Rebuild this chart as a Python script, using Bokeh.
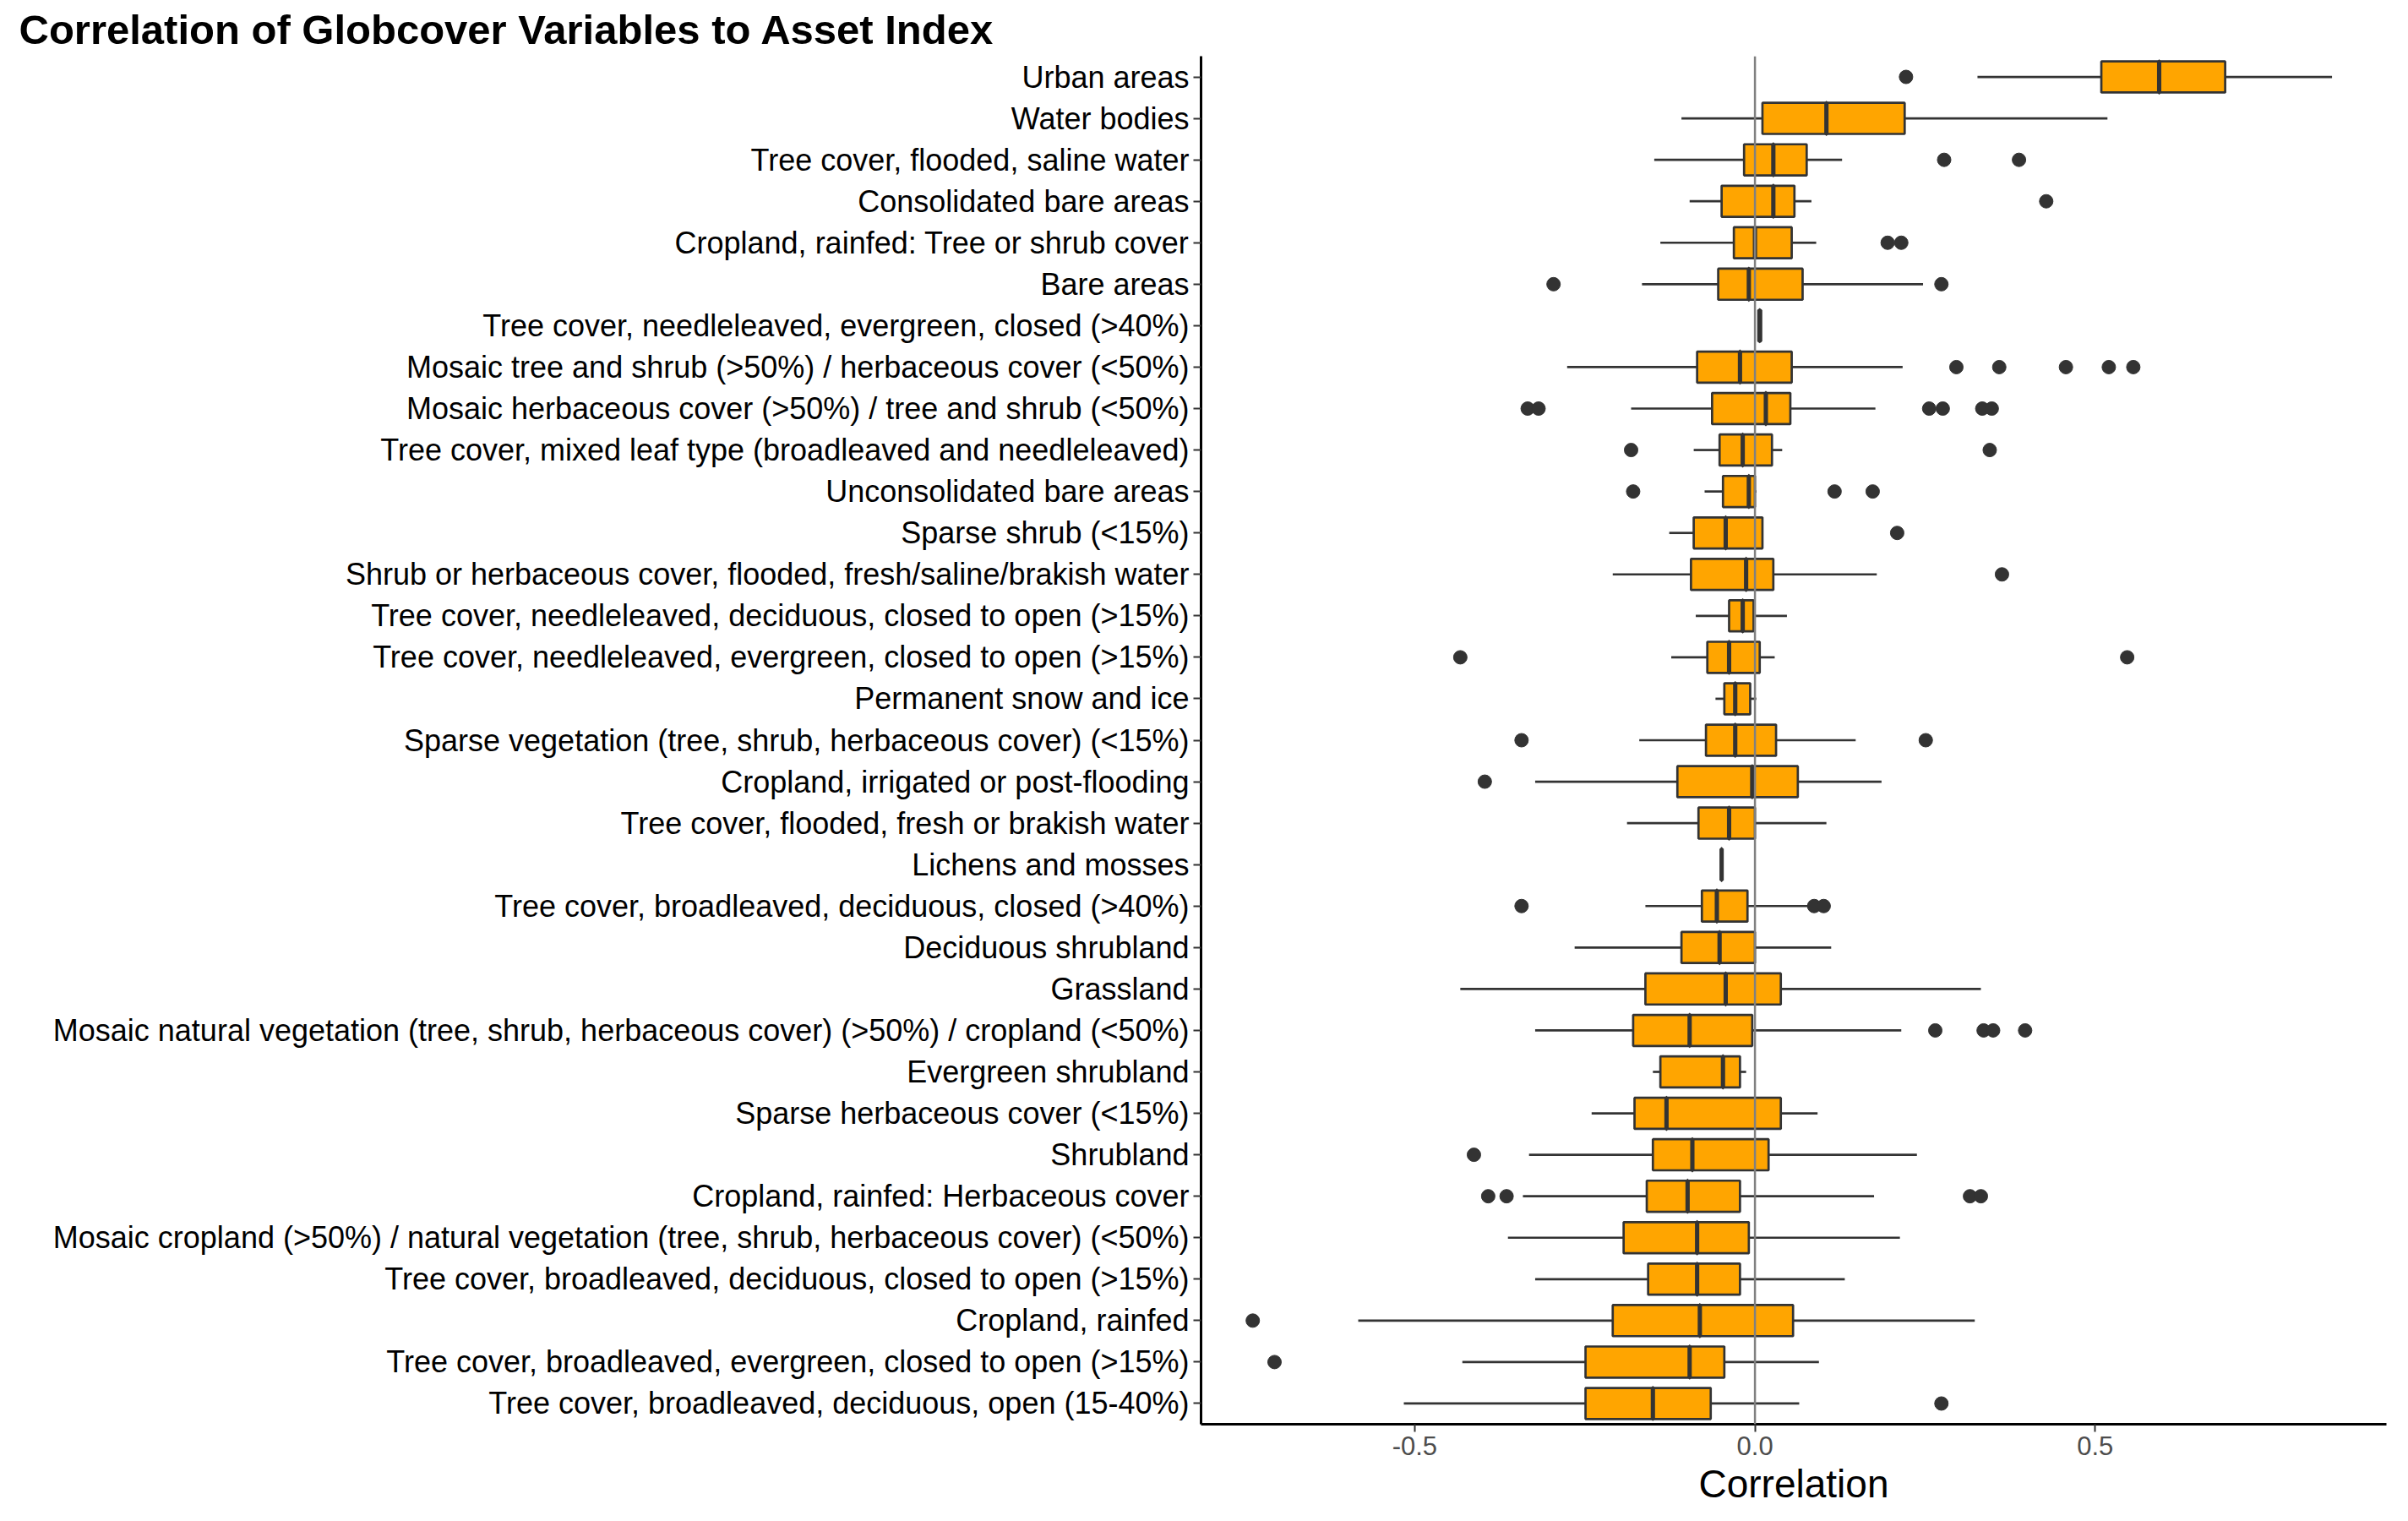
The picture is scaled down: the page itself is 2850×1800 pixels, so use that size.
from bokeh.plotting import figure
from bokeh.models import FactorRange, FixedTicker, Span
from bokeh.embed import file_html
from bokeh.resources import INLINE

# categories top to bottom
cats = [
    "Urban areas", "Water bodies", "Tree cover, flooded, saline water", "Consolidated bare areas",
    "Cropland, rainfed: Tree or shrub cover", "Bare areas",
    "Tree cover, needleleaved, evergreen, closed (>40%)",
    "Mosaic tree and shrub (>50%) / herbaceous cover (<50%)",
    "Mosaic herbaceous cover (>50%) / tree and shrub (<50%)",
    "Tree cover, mixed leaf type (broadleaved and needleleaved)",
    "Unconsolidated bare areas", "Sparse shrub (<15%)",
    "Shrub or herbaceous cover, flooded, fresh/saline/brakish water",
    "Tree cover, needleleaved, deciduous, closed to open (>15%)",
    "Tree cover, needleleaved, evergreen, closed to open (>15%)",
    "Permanent snow and ice",
    "Sparse vegetation (tree, shrub, herbaceous cover) (<15%)",
    "Cropland, irrigated or post-flooding",
    "Tree cover, flooded, fresh or brakish water", "Lichens and mosses",
    "Tree cover, broadleaved, deciduous, closed (>40%)", "Deciduous shrubland", "Grassland",
    "Mosaic natural vegetation (tree, shrub, herbaceous cover) (>50%) / cropland (<50%)",
    "Evergreen shrubland", "Sparse herbaceous cover (<15%)", "Shrubland",
    "Cropland, rainfed: Herbaceous cover",
    "Mosaic cropland (>50%) / natural vegetation (tree, shrub, herbaceous cover) (<50%)",
    "Tree cover, broadleaved, deciduous, closed to open (>15%)", "Cropland, rainfed",
    "Tree cover, broadleaved, evergreen, closed to open (>15%)",
    "Tree cover, broadleaved, deciduous, open (15-40%)",
]
q1 = [0.509, 0.011, -0.016, -0.049, -0.031, -0.054, 0.005, -0.085, -0.063, -0.052, -0.047,
      -0.090, -0.094, -0.038, -0.070, -0.045, -0.072, -0.114, -0.083, -0.049, -0.078, -0.108,
      -0.161, -0.179, -0.139, -0.177, -0.150, -0.159, -0.193, -0.157, -0.209, -0.249, -0.249]
med = [0.594, 0.105, 0.027, 0.027, 0.000, -0.009, 0.007, -0.022, 0.016, -0.018, -0.009,
       -0.043, -0.013, -0.018, -0.038, -0.029, -0.029, -0.004, -0.038, -0.049, -0.056, -0.052,
       -0.043, -0.096, -0.047, -0.130, -0.092, -0.099, -0.085, -0.085, -0.081, -0.096, -0.150]
q3 = [0.691, 0.220, 0.076, 0.058, 0.054, 0.070, 0.009, 0.054, 0.052, 0.025, 0.000,
      0.011, 0.027, -0.002, 0.007, -0.007, 0.031, 0.063, 0.000, -0.049, -0.011, 0.000,
      0.038, -0.004, -0.022, 0.038, 0.020, -0.022, -0.009, -0.022, 0.056, -0.045, -0.065]
wlo = [0.327, -0.108, -0.148, -0.096, -0.139, -0.166, 0.005, -0.276, -0.182, -0.090, -0.074,
       -0.126, -0.209, -0.087, -0.123, -0.058, -0.170, -0.323, -0.188, -0.049, -0.161, -0.265,
       -0.433, -0.323, -0.150, -0.240, -0.332, -0.341, -0.363, -0.323, -0.583, -0.430, -0.516]
whi = [0.848, 0.518, 0.128, 0.083, 0.090, 0.247, 0.009, 0.217, 0.177, 0.040, 0.002,
       0.011, 0.179, 0.047, 0.029, 0.002, 0.148, 0.186, 0.105, -0.049, 0.081, 0.112,
       0.332, 0.215, -0.013, 0.092, 0.238, 0.175, 0.213, 0.132, 0.323, 0.094, 0.065]
outliers = [
    [0.222], [], [0.278, 0.388], [0.428], [0.195, 0.215], [-0.296, 0.274], [],
    [0.296, 0.359, 0.457, 0.520, 0.556], [-0.334, -0.318, 0.256, 0.276, 0.334, 0.348],
    [-0.182, 0.345], [-0.179, 0.117, 0.173], [0.209], [0.363], [], [-0.433, 0.547], [],
    [-0.343, 0.251], [-0.397], [], [], [-0.343, 0.087, 0.101], [], [],
    [0.265, 0.336, 0.350, 0.397], [], [], [-0.413], [-0.392, -0.365, 0.316, 0.332],
    [], [], [-0.738], [-0.706], [0.274],
]

FONT = "Liberation Sans"
p = figure(width=2834, height=1784, y_range=FactorRange(*reversed(cats)),
           x_range=(-0.814, 0.928), output_backend="svg", toolbar_location=None,
           min_border_left=1421, min_border_right=10, min_border_top=46, min_border_bottom=40)
p.title.text = "Correlation of Globcover Variables to Asset Index"
p.title.text_font = FONT
p.title.text_font_size = "49px"
p.title.text_font_style = "bold"
p.title.text_color = "black"
p.title.align = "left"
p.title.offset = -1399

p.xgrid.visible = False
p.ygrid.visible = False
p.outline_line_color = None

p.add_layout(Span(location=0, dimension="height", line_color="#808080", line_width=2.5))

p.segment(wlo, cats, q1, cats, line_color="#333333", line_width=2.7)
p.segment(q3, cats, whi, cats, line_color="#333333", line_width=2.7)
p.hbar(y=cats, left=q1, right=q3, height=0.75, fill_color="#FFA500",
       line_color="#333333", line_width=2.7)
p.vbar(x=med, top=[(c, 0.375) for c in cats], bottom=[(c, -0.375) for c in cats],
       width=0.0001, line_color="#333333", line_width=5)

ox, oy = [], []
for c, o in zip(cats, outliers):
    ox += o
    oy += [c] * len(o)
p.scatter(ox, oy, size=16, color="#333333")

p.xaxis.ticker = FixedTicker(ticks=[-0.5, 0.0, 0.5])
p.xaxis.major_label_overrides = {-0.5: "-0.5", 0: "0.0", 0.5: "0.5"}
p.xaxis.axis_label = "Correlation"
p.xaxis.axis_label_text_font = FONT
p.xaxis.axis_label_text_font_size = "46px"
p.xaxis.axis_label_text_font_style = "normal"
p.xaxis.axis_label_text_color = "black"
for ax in (p.xaxis, p.yaxis):
    ax.major_label_text_font = FONT
    ax.axis_line_color = "black"
    ax.axis_line_width = 3
    ax.major_tick_line_color = "#333333"
    ax.major_tick_line_width = 2
    ax.major_tick_out = 9
    ax.major_tick_in = 0
    ax.minor_tick_line_color = None
p.xaxis.major_label_text_font_size = "31px"
p.xaxis.major_label_text_color = "#4d4d4d"
p.yaxis.major_label_text_font_size = "36px"
p.yaxis.major_label_text_color = "black"

open("out.html", "w").write(file_html(p, INLINE))
